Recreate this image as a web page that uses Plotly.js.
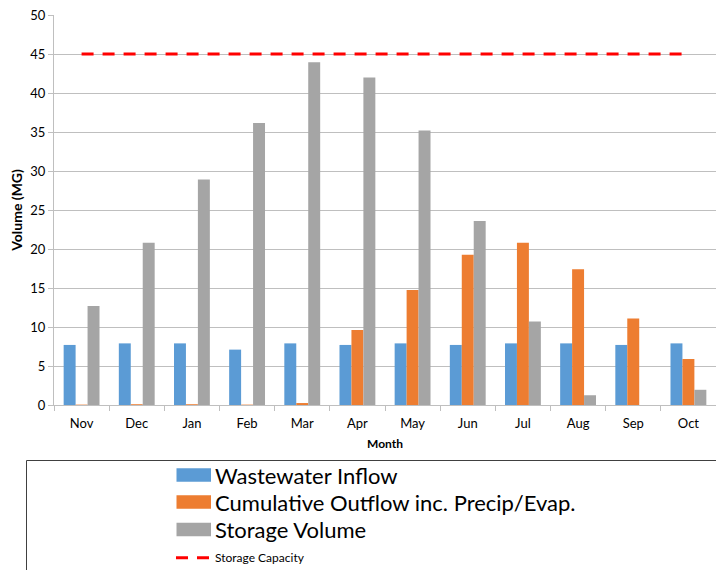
<!DOCTYPE html>
<html><head><meta charset="utf-8">
<script src="https://cdn.plot.ly/plotly-3.0.1.min.js"></script>
<style>html,body{margin:0;padding:0;background:#fff;overflow:hidden}</style>
</head><body><div id="chart" style="width:716px;height:570px"></div>
<script>
const months = ["Nov","Dec","Jan","Feb","Mar","Apr","May","Jun","Jul","Aug","Sep","Oct"];
const inflow = [7.7,7.9,7.9,7.1,7.9,7.7,7.9,7.7,7.9,7.9,7.7,7.9];
const outflow = [0.05,0.1,0.1,0.05,0.25,9.6,14.75,19.25,20.8,17.4,11.1,5.9];
const storage = [12.7,20.8,28.9,36.15,43.95,42.0,35.2,23.6,10.7,1.25,0,1.95];
const capacity = [45,45,45,45,45,45,45,45,45,45,45,45];
const seriesNames = ["Wastewater Inflow","Cumulative Outflow inc. Precip/Evap.","Storage Volume","Storage Capacity"];
const seriesColors = ["#5B9BD5","#ED7D31","#A5A5A5","#FF0000"];

const FONT = "Lato, 'Open Sans', sans-serif";
const L = 54, T = 15, W = 662, H = 390;
const px = v => (v - L) / W;
const py = v => (T + H - v) / H;

const traces = [
  {type:"bar", x:months, y:inflow, name:seriesNames[0], marker:{color:seriesColors[0], line:{width:0}}},
  {type:"bar", x:months, y:outflow, name:seriesNames[1], marker:{color:seriesColors[1], line:{width:0}}},
  {type:"bar", x:months, y:storage, name:seriesNames[2], marker:{color:seriesColors[2], line:{width:0}}},
  {type:"scatter", mode:"lines", x:months, y:capacity, name:seriesNames[3], line:{color:seriesColors[3], width:3, dash:"12px,9px"}}
];

const shapes = [
  {type:"rect", xref:"paper", yref:"paper", x0:px(26.5), x1:px(730), y0:py(460.5), y1:py(590), line:{color:"#404040", width:1}, fillcolor:"rgba(0,0,0,0)"}
];
const annotations = [];
const rowY = [475, 502, 529.5];
for (let i = 0; i < 3; i++) {
  shapes.push({type:"rect", xref:"paper", yref:"paper", x0:px(176.5), x1:px(211), y0:py(rowY[i]-6.7), y1:py(rowY[i]+6.7), line:{width:0}, fillcolor:seriesColors[i]});
  annotations.push({xref:"paper", yref:"paper", x:px(213), y:py(rowY[i]), xanchor:"left", yanchor:"middle", showarrow:false, text:seriesNames[i], font:{family:FONT, size:22, color:"#000"}});
}
shapes.push({type:"line", xref:"paper", yref:"paper", x0:px(176), x1:px(209), y0:py(557.7), y1:py(557.7), line:{color:seriesColors[3], width:3, dash:"12px,9px"}});
annotations.push({xref:"paper", yref:"paper", x:px(213), y:py(557.7), xanchor:"left", yanchor:"middle", showarrow:false, text:seriesNames[3], font:{family:FONT, size:12, color:"#000"}});

const layout = {
  width:716, height:570,
  margin:{l:L, r:0, t:T, b:570-T-H, pad:0},
  paper_bgcolor:"#fff", plot_bgcolor:"#fff",
  showlegend:false,
  barmode:"group", bargap:0.35, bargroupgap:0,
  font:{family:FONT, size:12, color:"#000"},
  xaxis:{
    type:"category", tickson:"boundaries", ticks:"outside", ticklen:5, tickcolor:"#BFBFBF",
    showline:true, linecolor:"#BFBFBF", linewidth:1, showgrid:false,
    tickfont:{family:FONT, size:13, color:"#000"}, ticklabelstandoff:6,
    title:{text:"<b>Month</b>", font:{family:FONT, size:12, color:"#000"}, standoff:10}
  },
  yaxis:{
    range:[0,50], dtick:5, ticks:"outside", ticklen:5, tickcolor:"#BFBFBF",
    showline:true, linecolor:"#BFBFBF", linewidth:1,
    showgrid:true, gridcolor:"#BFBFBF", gridwidth:1, zeroline:false,
    tickfont:{family:FONT, size:13, color:"#000"},
    title:{text:"<b>Volume (MG)</b>", font:{family:FONT, size:14, color:"#000"}, standoff:4}
  },
  shapes:shapes, annotations:annotations
};
Plotly.newPlot("chart", traces, layout, {displayModeBar:false, staticPlot:true});
</script></body></html>
